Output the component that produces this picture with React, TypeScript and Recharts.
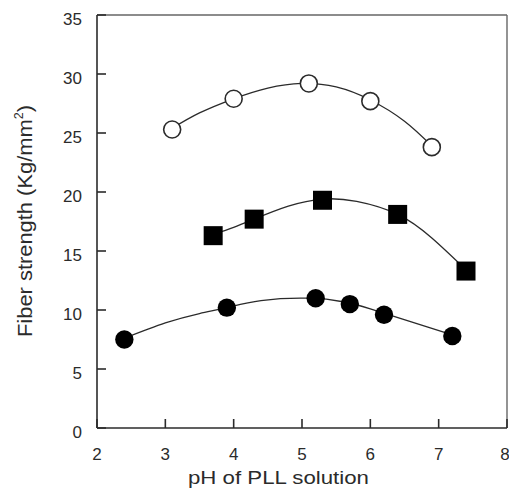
import React from "react";
import { ComposedChart, Line, Scatter, XAxis, YAxis, ReferenceLine, Label } from "recharts";

// measured points (pH, strength)
const openX = [3.1, 4.0, 5.1, 6.0, 6.9];
const openY = [25.3, 27.9, 29.2, 27.7, 23.8];
const squareX = [3.7, 4.3, 5.3, 6.4, 7.4];
const squareY = [16.3, 17.7, 19.3, 18.1, 13.3];
const filledX = [2.4, 3.9, 5.2, 5.7, 6.2, 7.2];
const filledY = [7.5, 10.2, 11.0, 10.5, 9.6, 7.8];

// fitted curves
const openCurveX = [3.1, 3.5, 4.0, 4.5, 5.0, 5.5, 6.0, 6.5, 6.9];
const openCurveY = [25.4, 26.7, 27.9, 28.8, 29.2, 28.9, 27.8, 26.0, 23.9];
const squareCurveX = [3.7, 4.0, 4.3, 4.8, 5.3, 5.8, 6.4, 6.9, 7.4];
const squareCurveY = [16.4, 17.0, 17.7, 18.8, 19.4, 19.2, 18.1, 16.1, 13.4];
const filledCurveX = [2.4, 3.0, 3.5, 3.9, 4.4, 5.1, 5.6, 6.0, 6.6, 7.2];
const filledCurveY = [7.6, 8.9, 9.7, 10.2, 10.8, 11.0, 10.7, 10.1, 9.0, 7.9];

const xTicks = [2, 3, 4, 5, 6, 7, 8];
const yTicks = [0, 5, 10, 15, 20, 25, 30, 35];

const zip = (xs: number[], ys: number[]) => xs.map((x, i) => ({ x, y: ys[i] }));

const INK = "#2b2b2b";
const FONT = "'Liberation Sans', Arial, sans-serif";
const TICK_LEN = 9;
const Y_GAP = 15; // axis line to y labels
const X_GAP = 19.5; // axis line to x labels

const OpenDot = (p: any) => (
  <circle cx={p.cx} cy={p.cy} r={8.5} fill="#fff" stroke={INK} strokeWidth={1.6} />
);
const FilledDot = (p: any) => <circle cx={p.cx} cy={p.cy} r={9.2} fill="#000" />;
const SquareDot = (p: any) => (
  <rect x={p.cx - 9.5} y={p.cy - 9.5} width={19} height={19} fill="#000" />
);

// ticks point inward, so the tick line is drawn together with the label
const YTick = (p: any) => (
  <g>
    <line x1={p.x + Y_GAP} x2={p.x + Y_GAP + TICK_LEN} y1={p.y} y2={p.y} stroke={INK} strokeWidth={1.6} />
    <text x={p.x} y={p.y + 4.5} textAnchor="end" dominantBaseline="central" fontSize={17} fill={INK} fontFamily={FONT}>
      {p.payload.value}
    </text>
  </g>
);
const XTick = (p: any) => (
  <g>
    <line x1={p.x} x2={p.x} y1={p.y - X_GAP} y2={p.y - X_GAP - TICK_LEN} stroke={INK} strokeWidth={1.6} />
    <text x={p.payload.value === 8 ? p.x - 2 : p.x} y={p.y} dy="0.71em" textAnchor="middle" fontSize={17} fill={INK} fontFamily={FONT}>
      {p.payload.value}
    </text>
  </g>
);

export default function App() {
  return (
    <div style={{ position: "absolute", left: 0, top: 0 }}>
      <ComposedChart width={509} height={498} margin={{ top: 15, right: 2, left: 40, bottom: 30 }}>
        <XAxis
          dataKey="x"
          type="number"
          domain={[2, 8]}
          ticks={xTicks}
          height={40}
          tickSize={0}
          tickMargin={X_GAP}
          tick={XTick}
          tickLine={false}
          axisLine={{ stroke: INK, strokeWidth: 1.6 }}
          interval={0}
        >
          <Label
            content={() => (
              <text x={278.5} y={484} textAnchor="middle" fontSize={19} fill={INK} fontFamily={FONT}
                textLength={181} lengthAdjust="spacingAndGlyphs">
                pH of PLL solution
              </text>
            )}
          />
        </XAxis>
        <YAxis
          type="number"
          domain={[0, 35]}
          ticks={yTicks}
          width={57}
          tickSize={0}
          tickMargin={Y_GAP}
          tick={YTick}
          tickLine={false}
          axisLine={{ stroke: INK, strokeWidth: 1.6 }}
          interval={0}
        >
          <Label
            content={() => (
              <text x={31.5} y={221} transform="rotate(-90, 31.5, 221)" textAnchor="middle" fontSize={21}
                fill={INK} fontFamily={FONT} textLength={232} lengthAdjust="spacingAndGlyphs">
                Fiber strength (Kg/mm<tspan fontSize={12} dy={-9}>2</tspan><tspan dy={9}>)</tspan>
              </text>
            )}
          />
        </YAxis>
        <ReferenceLine y={35} stroke="#666" strokeWidth={1.4} />
        <ReferenceLine x={8} stroke="#666" strokeWidth={1.4} />

        <Line data={zip(openCurveX, openCurveY)} dataKey="y" type="natural" dot={false} stroke={INK} strokeWidth={1.3} isAnimationActive={false} />
        <Line data={zip(squareCurveX, squareCurveY)} dataKey="y" type="natural" dot={false} stroke={INK} strokeWidth={1.3} isAnimationActive={false} />
        <Line data={zip(filledCurveX, filledCurveY)} dataKey="y" type="natural" dot={false} stroke={INK} strokeWidth={1.3} isAnimationActive={false} />

        <Scatter data={zip(openX, openY)} dataKey="y" shape={OpenDot} isAnimationActive={false} />
        <Scatter data={zip(squareX, squareY)} dataKey="y" shape={SquareDot} isAnimationActive={false} />
        <Scatter data={zip(filledX, filledY)} dataKey="y" shape={FilledDot} isAnimationActive={false} />
      </ComposedChart>
    </div>
  );
}
